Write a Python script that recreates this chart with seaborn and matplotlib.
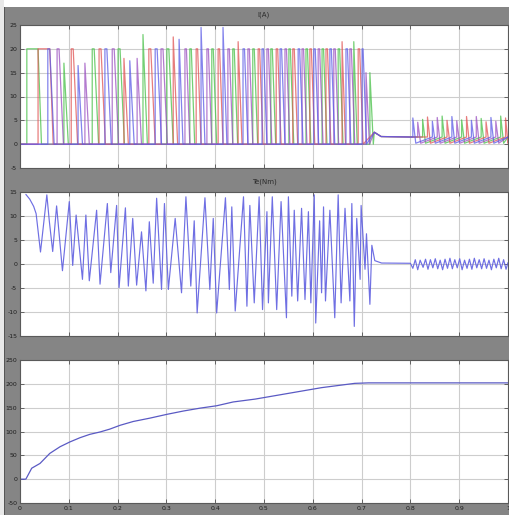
import matplotlib
matplotlib.use("Agg")
import matplotlib.pyplot as plt
from matplotlib.patches import Rectangle
import pandas as pd
import seaborn as sns

# ---------------- data ----------------
# phase-current pulses: (turn-on time, end of flat top, peak A, back to base)
phase_blue = [(0.057, 0.061, 20, 0.070), (0.119, 0.119, 16.5, 0.128), (0.174, 0.178, 20, 0.187),
              (0.225, 0.225, 17.5, 0.234), (0.277, 0.281, 20, 0.290), (0.326, 0.326, 22, 0.334),
              (0.371, 0.371, 24.5, 0.379), (0.416, 0.416, 24.5, 0.424), (0.457, 0.460, 20, 0.467),
              (0.496, 0.499, 20, 0.506), (0.533, 0.536, 20, 0.543), (0.570, 0.573, 20, 0.580),
              (0.602, 0.605, 20, 0.612), (0.635, 0.638, 20, 0.645), (0.668, 0.671, 20, 0.678),
              (0.701, 0.703, 20, 0.710)]
phase_purple = [(0.076, 0.080, 20, 0.089), (0.133, 0.133, 17, 0.142), (0.189, 0.193, 20, 0.202),
                (0.240, 0.240, 18, 0.249), (0.289, 0.293, 20, 0.302), (0.338, 0.341, 20, 0.348),
                (0.383, 0.386, 20, 0.393), (0.426, 0.429, 20, 0.436), (0.467, 0.470, 20, 0.477),
                (0.506, 0.509, 20, 0.516), (0.543, 0.546, 20, 0.553), (0.578, 0.581, 20, 0.588),
                (0.611, 0.614, 20, 0.621), (0.643, 0.646, 20, 0.653), (0.676, 0.679, 20, 0.686),
                (0.709, 0.709, 15, 0.716)]
phase_green = [(0.014, 0.037, 20, 0.044), (0.090, 0.090, 17, 0.099), (0.148, 0.152, 20, 0.161),
               (0.201, 0.205, 20, 0.214), (0.252, 0.252, 23, 0.261), (0.301, 0.305, 20, 0.314),
               (0.348, 0.351, 20, 0.358), (0.393, 0.396, 20, 0.403), (0.436, 0.439, 20, 0.446),
               (0.477, 0.480, 20, 0.487), (0.514, 0.517, 20, 0.524), (0.551, 0.554, 20, 0.561),
               (0.586, 0.589, 20, 0.596), (0.619, 0.622, 20, 0.629), (0.652, 0.655, 20, 0.662),
               (0.684, 0.684, 21.5, 0.691), (0.717, 0.717, 15, 0.724)]
phase_red = [(0.037, 0.061, 20, 0.068), (0.105, 0.109, 20, 0.118), (0.162, 0.166, 20, 0.175),
             (0.213, 0.213, 18, 0.222), (0.264, 0.268, 20, 0.277), (0.314, 0.314, 22.5, 0.323),
             (0.361, 0.364, 20, 0.371), (0.406, 0.409, 20, 0.416), (0.447, 0.447, 21.5, 0.455),
             (0.488, 0.491, 20, 0.498), (0.525, 0.528, 20, 0.535), (0.559, 0.562, 20, 0.569),
             (0.594, 0.597, 20, 0.604), (0.627, 0.630, 20, 0.637), (0.660, 0.660, 21.5, 0.667),
             (0.693, 0.696, 20, 0.703)]

# steady-state (after speed reached) small pulses on a ~1.5 A base
steady_blue = [(0.805, 0.805, 5.5, 0.811), (0.845, 0.845, 4.8, 0.851), (0.885, 0.885, 5.8, 0.891),
               (0.925, 0.925, 5.0, 0.931), (0.965, 0.965, 5.6, 0.971)]
steady_purple = [(0.815, 0.815, 4.6, 0.821), (0.855, 0.855, 5.6, 0.861), (0.895, 0.895, 4.9, 0.901),
                 (0.935, 0.935, 5.8, 0.941), (0.975, 0.975, 4.8, 0.981)]
steady_green = [(0.825, 0.825, 5.2, 0.831), (0.865, 0.865, 5.9, 0.871), (0.905, 0.905, 5.1, 0.911),
                (0.945, 0.945, 5.4, 0.951), (0.985, 0.985, 5.9, 0.991)]
steady_red = [(0.835, 0.835, 5.7, 0.841), (0.875, 0.875, 5.0, 0.881), (0.915, 0.915, 5.8, 0.921),
              (0.955, 0.955, 4.7, 0.961), (0.995, 0.995, 5.5, 1.000)]
settle_t = [0.726, 0.740, 0.800]
settle_v = [2.5, 1.6, 1.5]
steady_base = 1.5

# torque (Nm)
torque_t = [0.012, 0.020, 0.028, 0.033, 0.042, 0.055, 0.060, 0.067, 0.075, 0.087, 0.101, 0.108,
            0.115, 0.128, 0.135, 0.142, 0.157, 0.164, 0.179, 0.186, 0.198, 0.203, 0.216, 0.222,
            0.231, 0.239, 0.249, 0.258, 0.265, 0.273, 0.280, 0.290, 0.296, 0.304, 0.318, 0.331,
            0.340, 0.350, 0.357, 0.363, 0.379, 0.389, 0.396, 0.403, 0.421, 0.429, 0.434, 0.441,
            0.458, 0.465, 0.471, 0.480, 0.490, 0.497, 0.506, 0.509, 0.517, 0.526, 0.535, 0.546,
            0.550, 0.557, 0.562, 0.569, 0.577, 0.584, 0.591, 0.596, 0.603, 0.606, 0.614, 0.618,
            0.622, 0.626, 0.635, 0.645, 0.652, 0.658, 0.666, 0.676, 0.680, 0.685, 0.690, 0.697,
            0.699, 0.707, 0.710, 0.717, 0.721, 0.727, 0.741, 0.800, 0.805, 0.810, 0.815, 0.820,
            0.826, 0.831, 0.836, 0.841, 0.846, 0.851, 0.856, 0.861, 0.866, 0.871, 0.876, 0.881,
            0.886, 0.891, 0.896, 0.901, 0.906, 0.911, 0.916, 0.921, 0.926, 0.931, 0.936, 0.941,
            0.946, 0.951, 0.956, 0.961, 0.966, 0.971, 0.976, 0.981, 0.986, 0.991, 0.996, 1.000]
torque_v = [14.5, 13.5, 12.0, 10.5, 2.5, 14.4, 9.0, 2.6, 12.1, -1.4, 13.0, -0.3,
            10.2, -3.2, 10.2, -3.5, 11.2, -4.2, 12.6, -1.8, 12.2, -4.9, 11.7, -4.6,
            9.5, -4.4, 6.7, -5.6, 8.8, -4.0, 13.7, -5.3, 12.6, -5.3, 9.5, -6.0,
            14.0, -4.6, 9.0, -10.2, 13.8, -5.3, 9.5, -10.2, 13.8, -5.3, 11.9, -9.8,
            14.0, -8.8, 12.2, -8.1, 14.0, -9.5, 10.9, -8.1, 14.0, -9.5, 13.0, -11.2,
            14.0, -6.7, 11.2, -7.7, 11.6, -7.4, 10.9, -8.1, 14.4, -12.3, 9.0, -6.0,
            11.9, -7.7, 11.2, -11.2, 14.4, -8.1, 11.6, -7.7, 12.6, -13.0, 9.5, -3.2,
            12.2, -1.1, 6.3, -8.4, 3.9, 0.7, 0.2, 0.15, -0.9, 0.9, -1.2, 0.8,
            -0.7, 1.0, -1.1, 0.9, -0.8, 1.1, -1.0, 0.8, -1.2, 1.0, -0.9, 1.2,
            -1.0, 0.9, -0.8, 1.1, -1.2, 0.8, -0.9, 1.0, -1.1, 1.2, -0.8, 0.9,
            -1.0, 1.1, -0.9, 0.8, -1.2, 1.0, -0.8, 1.2, -1.0, 0.9, -1.1, 0.3]

# speed (rpm)
speed_t = [0.0, 0.012, 0.024, 0.041, 0.061, 0.082, 0.102, 0.123, 0.143, 0.164, 0.184, 0.205,
           0.232, 0.266, 0.301, 0.335, 0.369, 0.403, 0.437, 0.482, 0.550, 0.618, 0.686, 0.714, 1.0]
speed_v = [0, 0, 23, 33, 54, 68, 78, 87, 94, 99, 105, 113,
           121, 128, 136, 143, 149, 154, 162, 168, 180, 192, 201, 202, 202]

x_ticks = [0, 0.1, 0.2, 0.3, 0.4, 0.5, 0.6, 0.7, 0.8, 0.9, 1.0]
x_ticklabels = ["0", "0.1", "0.2", "0.3", "0.4", "0.5", "0.6", "0.7", "0.8", "0.9", "1"]
y1_ticks = [-5, 0, 5, 10, 15, 20, 25]
y2_ticks = [-15, -10, -5, 0, 5, 10, 15]
y3_ticks = [-50, 0, 50, 100, 150, 200, 250]
titles = ["I(A)", "Te(Nm)", ""]

phase_colors = {"blue": "#5a5ae6", "purple": "#9a4fc0", "green": "#46c046", "red": "#e05252"}

# ---------------- build tables ----------------
def phase_rows(name, pulses, steady):
    ts, vs = [0.0], [0.0]
    for on, hold, pk, off in pulses:
        ts += [on, on, hold, off]
        vs += [0.0, pk, pk, 0.0]
    ts += settle_t
    vs += settle_v
    for on, hold, pk, off in steady:
        ts += [on, on, hold, off]
        vs += [steady_base, pk, pk, 0.2]
    ts.append(1.0)
    vs.append(steady_base)
    return pd.DataFrame({"t": ts, "v": vs, "phase": name})

cur = pd.concat([
    phase_rows("green", phase_green, steady_green),
    phase_rows("red", phase_red, steady_red),
    phase_rows("purple", phase_purple, steady_purple),
    phase_rows("blue", phase_blue, steady_blue),
], ignore_index=True)
tq = pd.DataFrame({"t": torque_t, "v": torque_v})
sp = pd.DataFrame({"t": speed_t, "v": speed_v})

# ---------------- figure ----------------
sns.set_style("white")
plt.rcParams["font.family"] = ["DejaVu Sans"]

W, H = 510, 515
fig = plt.figure(figsize=(W / 100, H / 100), dpi=100, facecolor="#858585")
fig.patches.append(Rectangle((0, 1 - 7 / H), 1, 7 / H, transform=fig.transFigure,
                             facecolor="white", edgecolor="none", zorder=0))
fig.patches.append(Rectangle((0, 0), 4 / W, 1, transform=fig.transFigure,
                             facecolor="#e8e8e8", edgecolor="none", zorder=0))
fig.patches.append(Rectangle((4 / W, 0), 1.5 / W, 1 - 7 / H, transform=fig.transFigure,
                             facecolor="#555555", edgecolor="none", zorder=0))

left, width = 20 / W, 488 / W
boxes = [(25, 168), (192, 336), (360, 503)]
axes = []
for (top, bot) in boxes:
    ax = fig.add_axes([left, 1 - bot / H, width, (bot - top) / H])
    axes.append(ax)

ax1, ax2, ax3 = axes
sns.lineplot(data=cur, x="t", y="v", hue="phase", palette=phase_colors, estimator=None,
             sort=False, legend=False, ax=ax1, lw=0.9, alpha=0.75)
sns.lineplot(data=tq, x="t", y="v", estimator=None, sort=False, ax=ax2,
             color="#5f5fe0", lw=0.85, alpha=0.9)
sns.lineplot(data=sp, x="t", y="v", estimator=None, sort=False, ax=ax3,
             color="#5a5ac4", lw=0.9)

for ax, yt, title, (top, bot) in zip(axes, [y1_ticks, y2_ticks, y3_ticks], titles, boxes):
    ax.set_facecolor("white")
    ax.set_xlim(0, 1)
    ax.set_ylim(yt[0], yt[-1])
    ax.set_xticks(x_ticks)
    ax.set_yticks(yt)
    ax.set_yticklabels([str(v) for v in yt])
    ax.grid(True, color="#cdcdcd", lw=0.8)
    ax.set_xlabel("")
    ax.set_ylabel("")
    ax.tick_params(direction="in", length=3, width=0.6, colors="#505050",
                   labelcolor="#1e1e1e", labelsize=4.5, pad=2,
                   top=True, right=True, left=True, bottom=True)
    for s in ax.spines.values():
        s.set_color("#5a5a5a")
        s.set_linewidth(0.8)
    if title:
        fig.text(left + width / 2, 1 - (top - 10) / H, title, ha="center", va="center",
                 fontsize=5, color="#2a2a2a")

ax1.set_xticklabels([])
ax2.set_xticklabels([])
ax3.set_xticklabels(x_ticklabels)

fig.savefig("out.png", dpi=100, facecolor=fig.get_facecolor())
